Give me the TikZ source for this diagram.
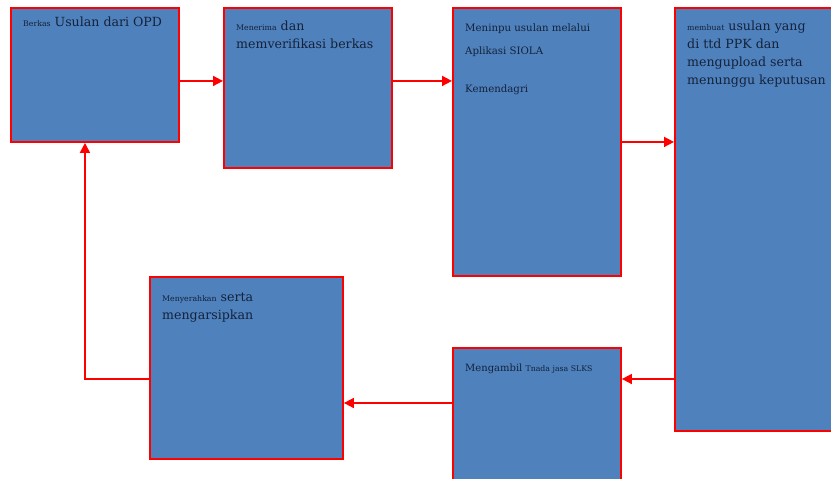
\documentclass[tikz,border=0pt]{standalone}
\usepackage{fontspec}
\setmainfont{DejaVu Serif}
\usetikzlibrary{arrows.meta}

\definecolor{boxblue}{HTML}{4F81BD}
\definecolor{inkblue}{HTML}{14223A}

\newcommand{\smalltxt}[1]{{\fontsize{7.8}{9}\selectfont #1}}

\begin{document}
\begin{tikzpicture}[x=1pt, y=-1pt,
proc/.style={rectangle, draw=red, line width=1.9pt, fill=boxblue, inner sep=0pt, anchor=north west},
txt/.style={anchor=north west, align=left, inner sep=0pt, text=inkblue, xshift=13pt, yshift=-14pt,
  font=\fontsize{12.6}{17.8}\selectfont},
flow/.style={-{Triangle[length=10pt,width=10pt]}, red, line width=1.7pt}]

\useasboundingbox (0,0) rectangle (831,479);
\clip (0,0) rectangle (831,479);

% boxes
\node[proc, minimum width=168pt, minimum height=134pt] (b1) at (10,7) {};
\node[proc, minimum width=168pt, minimum height=160pt] (b2) at (223,7) {};
\node[proc, minimum width=168pt, minimum height=268pt] (b3) at (452,7) {};
\node[proc, minimum width=180pt, minimum height=423pt] (b4) at (674,7) {};
\node[proc, minimum width=168pt, minimum height=150pt] (b5) at (452,347) {};
\node[proc, minimum width=193pt, minimum height=182pt] (b6) at (149,276) {};

% texts
\node[txt, yshift=4pt] (t1) at (b1.north west) {\smalltxt{Berkas} Usulan dari OPD};
\node[txt] (t2) at (b2.north west) {\smalltxt{Menerima} dan\\memverifikasi berkas};
\node[txt, yshift=-3pt, font=\fontsize{10.2}{14}\selectfont] (t3) at (b3.north west)
  {Meninpu usulan melalui\\[9pt]Aplikasi SIOLA\\[24pt]Kemendagri};
\node[txt] (t4) at (b4.north west) {\smalltxt{membuat} usulan yang\\di ttd PPK dan\\mengupload serta\\menunggu keputusan};
\node[txt, yshift=-3pt, font=\fontsize{10}{14}\selectfont] (t5) at (b5.north west) {Mengambil \smalltxt{Tnada jasa SLKS}};
\node[txt, yshift=-3pt] (t6) at (b6.north west) {\smalltxt{Menyerahkan} serta\\mengarsipkan};

% arrows
\draw[flow] ([yshift=-6pt]b1.east) -- ([yshift=-6pt]b1.east -| b2.west);
\draw[flow] ([yshift=7pt]b2.east) -- ([yshift=7pt]b2.east -| b3.west);
\draw[flow] (b3.east) -- (b3.east -| b4.west);
\draw[flow] ([yshift=-32pt]b5.north east -| b4.west) -- ([yshift=-32pt]b5.north east);
\draw[flow] ([yshift=-56pt]b5.north west) -- ([yshift=-56pt]b5.north west -| b6.east);
\draw[flow] ([yshift=-103pt]b6.north west) -| ([xshift=-10pt]b1.south);
\end{tikzpicture}
\end{document}
